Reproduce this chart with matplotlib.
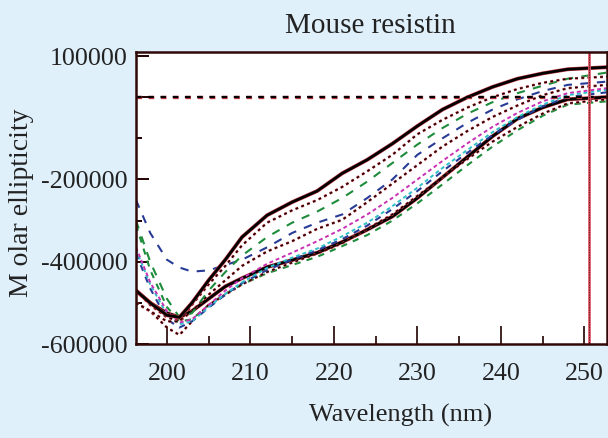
import numpy as np
import matplotlib.pyplot as plt
import matplotlib.patheffects as pe

# wavelength grid (nm) and molar ellipticity, in thousands
wavelength = [196.3, 198, 200, 201.5, 203, 205, 207, 209, 212, 215, 218,
              221, 224, 227, 230, 233, 236, 239, 242, 245, 248, 252.7]

top_black = [-470, -500, -530, -535, -500, -445, -395, -340, -287, -255, -228,
             -185, -152, -113, -70, -30, 0, 25, 45, 58, 68, 73]
red_upper = [-500, -520, -545, -545, -505, -455, -410, -360, -305, -275, -250,
             -218, -180, -140, -90, -55, -25, 0, 20, 35, 45, 50]
green_upper = [-300, -400, -490, -535, -525, -470, -425, -385, -340, -305, -278,
               -245, -205, -160, -115, -75, -40, -12, 10, 28, 45, 60]
blue_upper = [-250, -330, -395, -414, -424, -421, -408, -395, -365, -330, -305,
              -285, -245, -200, -140, -100, -62, -30, -5, 15, 30, 38]
red_mid = [-470, -505, -535, -545, -520, -480, -445, -410, -375, -350, -320,
           -298, -255, -210, -165, -120, -82, -48, -20, 5, 22, 30]
magenta = [-365, -450, -520, -548, -540, -505, -470, -440, -405, -378, -350,
           -320, -285, -245, -200, -155, -112, -72, -38, -10, 10, 22]
cyan = [-370, -455, -528, -552, -545, -510, -478, -450, -415, -390, -368,
        -338, -305, -265, -220, -172, -128, -85, -48, -18, 5, 18]
blue_lower = [-380, -465, -540, -560, -545, -512, -480, -452, -420, -395, -372,
              -345, -312, -272, -228, -180, -135, -92, -55, -22, 0, 12]
red_lower = [-500, -520, -560, -578, -545, -505, -480, -455, -425, -402, -380,
             -355, -320, -285, -240, -195, -150, -108, -72, -40, -15, -5]
green_lower = [-310, -420, -510, -545, -540, -505, -478, -455, -428, -408, -388,
               -362, -335, -300, -258, -212, -165, -120, -80, -45, -18, -10]
bottom_black = [-470, -500, -525, -535, -520, -490, -460, -440, -413, -396, -378,
                -352, -322, -290, -245, -195, -145, -95, -52, -25, -5, 0]

x_ticks = [200, 210, 220, 230, 240, 250]
y_ticks = [-600000, -400000, -200000, 0, 100000]
y_labels = ['-600000', '-400000', '-200000', '', '100000']
cursor_nm = 250.5

bg = '#dff0fb'
serif = ['Liberation Serif', 'DejaVu Serif']

fig = plt.figure(figsize=(6.08, 4.38), dpi=100, facecolor=bg)
ax = fig.add_axes([0.2237, 0.2146, 0.7745, 0.6667])
ax.set_facecolor('white')

wl = np.array(wavelength)
red_edge = [pe.Stroke(linewidth=2.8, foreground='#c83c46'), pe.Normal()]
red_thin = [pe.Stroke(linewidth=1.9, foreground='#c83c46'), pe.Normal()]

curves = [
    (bottom_black, dict(color='black', lw=2.0, path_effects=red_edge)),
    (green_lower, dict(color='#1e8c3c', lw=1.5, ls=(0, (3, 3)))),
    (red_lower, dict(color='#1a0000', lw=1.0, ls=(0, (2, 2.5)), path_effects=red_thin)),
    (blue_lower, dict(color='#283c96', lw=1.5, ls=(0, (3, 3)))),
    (cyan, dict(color='#30c0c8', lw=1.4, ls=(0, (2, 1.5)))),
    (magenta, dict(color='#c832b4', lw=1.4, ls=(0, (2, 1.5)))),
    (red_mid, dict(color='#1a0000', lw=1.0, ls=(0, (2, 2.5)), path_effects=red_thin)),
    (blue_upper, dict(color='#283c96', lw=1.5, ls=(0, (4, 4)))),
    (green_upper, dict(color='#1e8c3c', lw=1.5, ls=(0, (4, 4)))),
    (red_upper, dict(color='#1a0000', lw=1.0, ls=(0, (2, 2.5)), path_effects=red_thin)),
    (top_black, dict(color='black', lw=2.0, path_effects=red_edge)),
]
for vals, style in curves:
    ax.plot(wl, np.array(vals) * 1000, **style)

# zero line and cursor
ax.axhline(0, color='black', lw=1.6, ls=(0, (2.5, 3)),
           path_effects=[pe.Stroke(linewidth=2.4, foreground='#c83c46'), pe.Normal()])
ax.axvline(cursor_nm, color='#e05a6a', lw=2.0)
ax.axvline(cursor_nm, color='#300000', lw=0.6, ls=(0, (1, 1)))

ax.set_xlim(196.3, 252.7)
ax.set_ylim(-600000, 110000)

ax.set_xticks(x_ticks)
ax.set_xticklabels([str(t) for t in x_ticks])
ax.set_xticks([205, 215, 225, 235, 245], minor=True)
ax.set_yticks(y_ticks)
ax.set_yticklabels(y_labels)
ax.set_yticks([-500000, -300000, -100000], minor=True)

ax.tick_params(axis='x', which='major', direction='in', length=13, width=1.2,
               color='#200000', pad=14)
ax.tick_params(axis='x', which='minor', direction='in', length=6, width=1.2,
               color='#200000')
ax.tick_params(axis='y', which='major', direction='in', length=9.5, width=1.4,
               color='#200000', pad=6)
ax.tick_params(axis='y', which='minor', direction='in', length=4.5, width=1.4,
               color='#200000')
ax.tick_params(top=False, right=False)

for lab in ax.get_xticklabels() + ax.get_yticklabels():
    lab.set_family(serif)
    lab.set_fontsize(18.7)
    lab.set_color('#222222')

for sp in ax.spines.values():
    sp.set_color('#300808')
    sp.set_linewidth(1.8)

fig.text(370 / 608, 1 - 33 / 438, 'Mouse resistin', family=serif, fontsize=21,
         color='#222222', ha='center', va='baseline')
fig.text(401 / 608, 1 - 422 / 438, 'Wavelength (nm)', family=serif, fontsize=19,
         color='#222222', ha='center', va='baseline')
fig.text(21 / 608, 1 - 203 / 438, 'M olar ellipticity', family=serif, fontsize=20,
         color='#222222', ha='center', va='center', rotation=90)

fig.savefig('out.png', dpi=100, facecolor=bg)
